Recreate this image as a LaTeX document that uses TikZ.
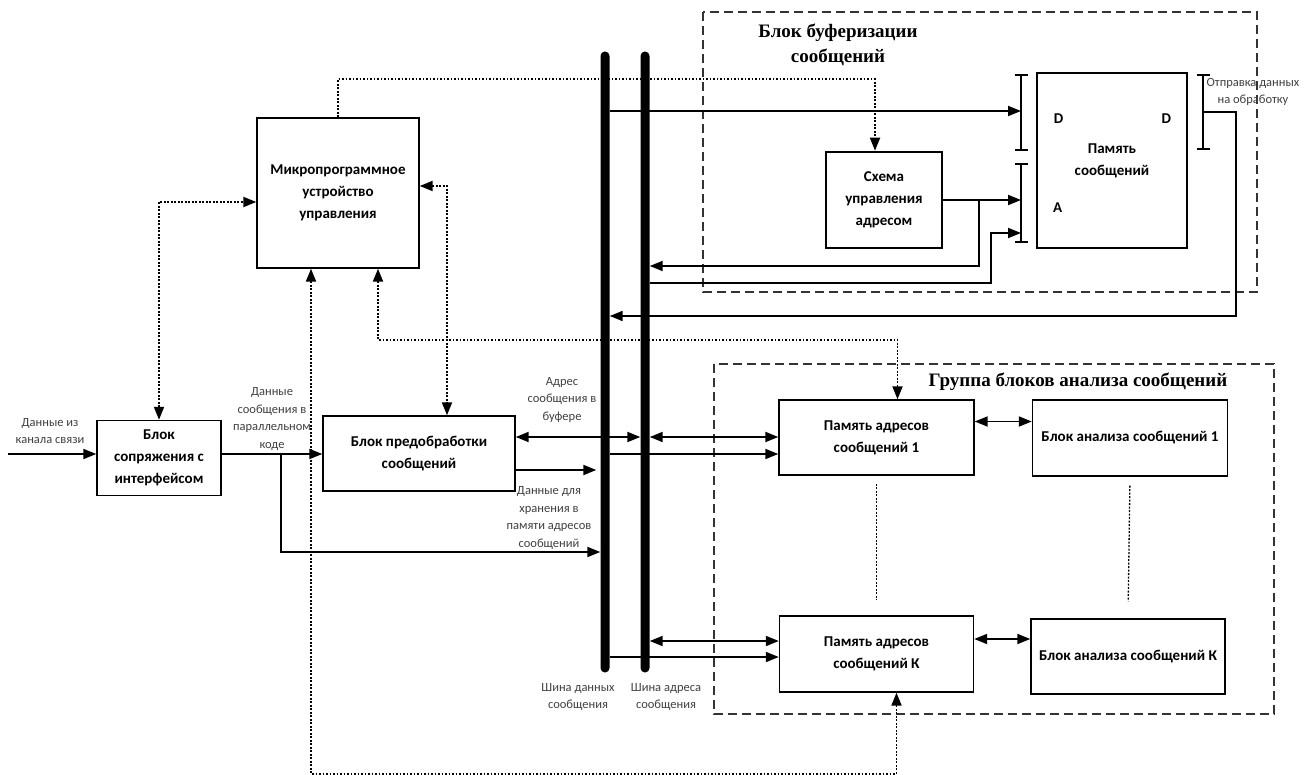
\documentclass[tikz,border=0pt]{standalone}
\usepackage{fontspec}
\setmainfont{Carlito}
\newfontfamily\titelfont{Liberation Serif}
\usetikzlibrary{arrows.meta,calc}

\begin{document}
\begin{tikzpicture}[x=1pt,y=-1pt,>={Triangle[length=13pt,width=10pt]},
  block/.style={draw,line width=1.4pt,align=center,inner sep=0pt,font=\bfseries\fontsize{15}{22}\selectfont},
  dickblock/.style={block,line width=2.6pt},
  bus/.style={fill=black,minimum width=9,minimum height=621,inner sep=0pt,rounded corners=4.4pt},
  ln/.style={line width=1.8pt},
  ctl/.style={line width=1.9pt,dash pattern=on 1.9pt off 1.6pt},
  rahmen/.style={line width=1.4pt,black!80,dash pattern=on 9pt off 5pt},
  lbl/.style={align=center,inner sep=0pt,text=black!75,font=\fontsize{12.5}{17.5}\selectfont},
  titel/.style={align=center,inner sep=0pt,font=\titelfont\bfseries\fontsize{19}{25}\selectfont}]
  \useasboundingbox (0,0) rectangle (1309,775);
  % Rahmen
  \draw[rahmen] (703,12) rectangle (1257,292);
  \draw[rahmen] (714,364) rectangle (1274,714);
  \node[titel] (tpuf) at (838,45) {Блок буферизации\\сообщений};
  \node[titel] (tgrp) at (1078,382) {Группа блоков анализа сообщений};
  % Bloecke
  \node[block,minimum width=124,minimum height=75] (sopr) at (159,458) {Блок\\сопряжения с\\интерфейсом};
  \node[block,minimum width=192,minimum height=75] (pre) at (419,453.5) {Блок предобработки\\сообщений};
  \node[block,minimum width=162,minimum height=150] (mpu) at (338,193) {Микропрограммное\\устройство\\управления};
  \node[dickblock,minimum width=116,minimum height=96] (schema) at (884,200) {Схема\\управления\\адресом};
  \node[dickblock,minimum width=150,minimum height=175] (mem) at (1112,160.5) {Память\\сообщений};
  \node[block,minimum width=195,minimum height=75] (pam1) at (876.5,437.5) {Память адресов\\сообщений 1};
  \node[block,minimum width=195,minimum height=76] (an1) at (1130,438) {Блок анализа сообщений 1};
  \node[block,minimum width=194,minimum height=76] (pamK) at (876.5,654) {Память адресов\\сообщений К};
  \node[block,minimum width=194,minimum height=75] (anK) at (1128,656.5) {Блок анализа сообщений К};
  \node[font=\bfseries\fontsize{15}{22}\selectfont] (dl) at ($(mem.north west)+(23,47)$) {D};
  \node[font=\bfseries\fontsize{15}{22}\selectfont] (dr) at ($(mem.north east)+(-22,47)$) {D};
  \node[font=\bfseries\fontsize{15}{22}\selectfont] (al) at ($(mem.north west)+(22,136)$) {A};
  % Shinen
  \node[bus] (dbus) at (605,362) {};
  \node[bus] (abus) at (645,362) {};
  \node[lbl] (tdbus) at (578,697) {Шина данных\\сообщения};
  \node[lbl] (tabus) at (666,697) {Шина адреса\\сообщения};
  % Texte
  \node[lbl] (tein) at (50,431) {Данные из\\канала связи};
  \node[lbl] (tpar) at (272,419) {Данные\\сообщения в\\параллельном\\коде};
  \node[lbl] (tadr) at (562,400) {Адрес\\сообщения в\\буфере};
  \node[lbl] (tdat) at (549,518) {Данные для\\хранения в\\памяти адресов\\сообщений};
  \node[lbl] (taus) at (1253,92) {Отправка данных\\на обработку};
  % Zeilen
  \coordinate (ein) at (8,454);
  \coordinate (abzw) at (281,454);
  \coordinate (y-dsp) at (0,552);
  \coordinate (y-adr) at (0,437);
  \coordinate (y-dat) at (0,454);
  \coordinate (y-dpr) at (0,470);
  \coordinate (y-adrk) at (0,641);
  \coordinate (y-datk) at (0,657);
  \coordinate (y-mem) at (0,111);
  \coordinate (y-sch) at (0,266);
  \coordinate (y-ab) at (0,283);
  \coordinate (y-aus) at (0,112);
  \coordinate (y-ret) at (0,316);
  \coordinate (knick) at (991,233);
  % Anschluesse
  \coordinate (d1a) at (1021,74);  \coordinate (d1b) at (1021,151);
  \coordinate (d2a) at (1021,163); \coordinate (d2b) at (1021,243);
  \coordinate (d3a) at (1203,74);  \coordinate (d3b) at (1203,150);
  \draw[ln,{Bar[width=13pt]}-{Bar[width=13pt]}] (d1a) -- (d1b);
  \draw[ln,{Bar[width=13pt]}-{Bar[width=13pt]}] (d2a) -- (d2b);
  \draw[ln,{Bar[width=13pt]}-{Bar[width=13pt]}] (d3a) -- (d3b);
  % Datenfluss
  \draw[ln,->] (ein) -- (sopr.west |- ein);
  \draw[ln,->] (sopr.east |- ein) -- (pre.west |- ein);
  \draw[ln,->] (abzw) |- (dbus.west |- y-dsp);
  \draw[ln,<->] (pre.east |- y-adr) -- (abus.west |- y-adr);
  \draw[ln,<->] (abus.east |- y-adr) -- (pam1.west |- y-adr);
  \draw[ln,->] (dbus.east |- y-dat) -- (pam1.west |- y-dat);
  \draw[ln,->,shorten >=4pt] (pre.east |- y-dpr) -- (dbus.west |- y-dpr);
  \draw[ln,<->] (abus.east |- y-adrk) -- (pamK.west |- y-adrk);
  \draw[ln,->] (dbus.east |- y-datk) -- (pamK.west |- y-datk);
  \draw[ln,<->] ($(pam1.east)+(0,-16)$) -- ($(an1.west)+(0,-16.5)$);
  \draw[ln,<->] ($(pamK.east)+(0,-15)$) -- ($(anK.west)+(0,-17.5)$);
  \draw[ln,->] (dbus.east |- y-mem) -- (d1a |- y-mem);
  \draw[ln,->] (schema.east) -- (d2a |- schema.east);
  \draw[ln,->] (schema.east) ++(36,0) |- (abus.east |- y-sch);
  \draw[ln,->] (abus.east |- y-ab) -| (knick) -- (d2a |- knick);
  \draw[ln,->] (d3a |- y-aus) -- ++(33,0) |- (dbus.east |- y-ret);
  % Steuerung
  \draw[ctl,<->] (sopr.north) |- ($(mpu.west)+(0,9)$);
  \draw[ctl,<->] ($(mpu.east)+(0,-7)$) -| ($(pre.north)+(28,0)$);
  \draw[ctl,->] (mpu.north) -- ++(0,-38) -| ($(schema.north)+(-9,0)$);
  \draw[ctl,<->] ($(mpu.south)+(40,0)$) -- ++(0,71) -| ($(pam1.north)+(21,0)$);
  \draw[ctl,<->] ($(mpu.south)+(-27,0)$) -- ++(0,505) -| ($(pamK.south)+(20,0)$);
  \draw[ctl,line width=1.3pt,shorten <=8pt,shorten >=16pt] (pam1.south) -- (pamK.north);
  \draw[ctl,line width=1.3pt,shorten <=9pt,shorten >=17pt] (an1.south) -- (anK.north);
\end{tikzpicture}
\end{document}
